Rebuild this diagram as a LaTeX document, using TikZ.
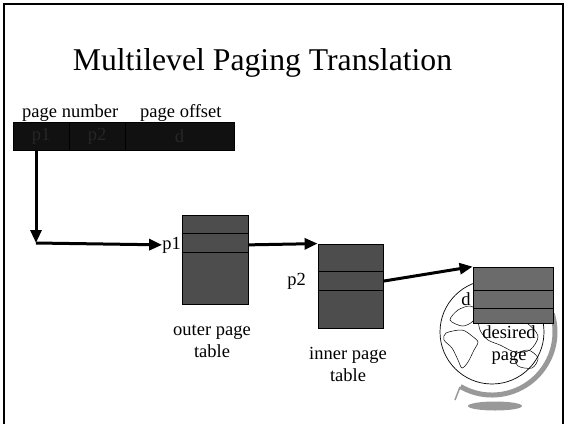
\documentclass[tikz,border=0pt]{standalone}
\usepackage{fontspec}
\setmainfont{Liberation Serif}
\usetikzlibrary{arrows.meta}
\definecolor{bardark}{HTML}{111111}
\definecolor{bartext}{HTML}{262626}
\definecolor{tabledark}{HTML}{4D4D4D}
\definecolor{tablelight}{HTML}{6B6B6B}
\definecolor{standgray}{HTML}{999999}
\begin{document}
\begin{tikzpicture}
[x=1pt,y=-1pt,
  fielddecorate/.style={shape=rectangle,draw=black,fill=bardark,text=bartext,
    minimum height=28pt,inner sep=0pt,font=\fontsize{18.5}{22}\selectfont},%
  tabledecorate/.style={shape=rectangle,draw=black,line width=0.8pt,inner sep=0pt},%
  labeldecorate/.style={inner sep=0pt,font=\fontsize{18.5}{22}\selectfont},%
  landdecorate/.style={line width=0.5pt},%
  linedecorate/.style={line width=3pt,-{Triangle[length=13pt,width=11pt]}}]
\useasboundingbox (0,0) rectangle (565,424);
% slide frame
\draw[line width=1.8pt] (4,424) -- (4,4) -- (563,4) -- (563,424);
\node (title) at (262.5,70) [anchor=base,inner sep=0pt,font=\fontsize{31.7}{38}\selectfont]
  {Multilevel Paging Translation};
%%% logical address
\node (pone) at (41,136) [fielddecorate,minimum width=56pt] {p1};
\node (ptwo) at (97,136) [fielddecorate,minimum width=56pt] {p2};
\node (doff) at (179.5,136) [fielddecorate,minimum width=109pt] {d};
\node (pnum) at (22,117) [labeldecorate,anchor=base west] {page number};
\node (poff) at (140,117) [labeldecorate,anchor=base west] {page offset};
%%% globe behind the desired page
\coordinate (globe) at (492,332);
\fill[standgray] (495,406) ellipse [x radius=27,y radius=4.5];
\draw[standgray,line width=1.5pt] (460,387) -- (455,400);
\draw[standgray,line width=5pt] (globe) ++(120:63) arc[start angle=120,end angle=-17,radius=63];
\draw[fill=white,line width=0.7pt] (globe) circle[radius=52];
% continents
\draw[landdecorate] plot[smooth cycle] coordinates
  {(446,333) (462,330) (472,336) (478,342) (474,350) (468,362) (462,368) (458,360) (452,348) (444,340)};
\draw[landdecorate] plot[smooth cycle] coordinates
  {(450,320) (458,310) (470,306) (478,312) (472,322) (462,326)};
\draw[landdecorate] plot[smooth cycle] coordinates
  {(480,318) (500,316) (525,322) (538,336) (530,350) (515,352) (500,345) (488,340) (480,330)};
\draw[landdecorate] plot[smooth cycle] coordinates
  {(515,355) (528,350) (538,358) (532,368) (518,366)};
%%% page tables
\node (outer) at (215,259.5) [tabledecorate,fill=tabledark,minimum width=66pt,minimum height=89pt] {};
\node (inner) at (350.5,286) [tabledecorate,fill=tabledark,minimum width=65pt,minimum height=84pt] {};
\node (page) at (513,295) [tabledecorate,fill=tablelight,minimum width=80pt,minimum height=56pt] {};
% rows
\draw[line width=0.8pt] (outer.north west) ++(0,19) -- ++(66,0) ++(-66,19) -- ++(66,0);
\draw[line width=0.8pt] (inner.north west) ++(0,28) -- ++(65,0) ++(-65,19) -- ++(65,0);
\draw[line width=0.8pt] (page.north west) ++(0,24) -- ++(80,0) ++(-80,18) -- ++(80,0);
% labels
\node (lone) at (181,249) [labeldecorate,anchor=base east] {p1};
\node (ltwo) at (306,285) [labeldecorate,anchor=base east] {p2};
\node (ld) at (466,305) [labeldecorate,anchor=base] {d};
\node (louter) at (212,357) [labeldecorate,anchor=base,align=center] {outer page\\table};
\node (linner) at (348,381) [labeldecorate,anchor=base,align=center] {inner page\\table};
\node (ldesired) at (509,360) [labeldecorate,anchor=base,align=center] {desired\\page};
% connectors
\coordinate (corner) at (36,243);
\coordinate (rowone) at (outer.east |- lone.west);
\coordinate (rowtwo) at ([yshift=-37.5pt]inner.north east);
\draw[linedecorate] ([xshift=-5pt]pone.south) -- (corner);
\draw[linedecorate] (corner) -- (lone.west);
\draw[linedecorate] (rowone) -- (inner.north west);
\draw[linedecorate] (rowtwo) -- (page.north west);
\end{tikzpicture}
\end{document}
